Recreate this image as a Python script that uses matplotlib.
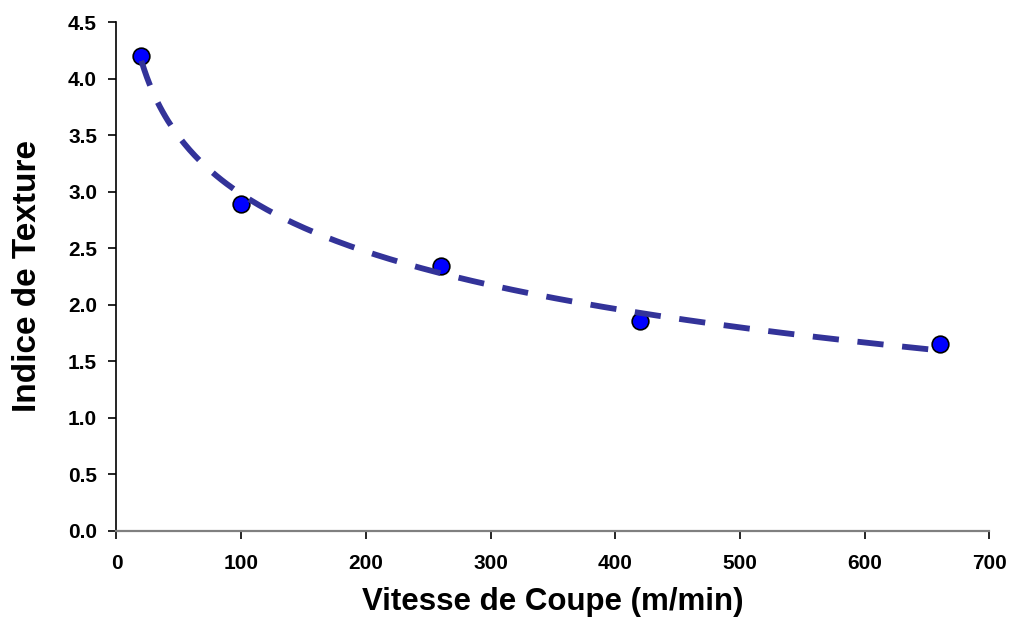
import numpy as np
import matplotlib
matplotlib.use("Agg")
import matplotlib.pyplot as plt

vitesse = [20, 100, 260, 420, 660]
indice = [4.20, 2.89, 2.34, 1.86, 1.65]
x_ticks = [0, 100, 200, 300, 400, 500, 600, 700]
y_ticks = [0.0, 0.5, 1.0, 1.5, 2.0, 2.5, 3.0, 3.5, 4.0, 4.5]

plt.rcParams['font.family'] = ['Liberation Sans', 'DejaVu Sans']

fig = plt.figure(figsize=(10.10, 6.19), dpi=100)
ax = fig.add_axes([0.1153, 0.1427, 0.8644, 0.8213])

# logarithmic trend line fitted to the data
b, a = np.polyfit(np.log(vitesse), indice, 1)
xf = np.linspace(min(vitesse), max(vitesse), 300)
yf = a + b * np.log(xf)

ax.plot(vitesse, indice, 'o', color='#0000FF', markeredgecolor='black',
        markeredgewidth=1.2, markersize=12, zorder=3)
ax.plot(xf, yf, color='#333399', lw=4.2, dashes=(4.5, 3.2),
        dash_capstyle='butt', zorder=4)

ax.set_xlim(0, 700)
ax.set_ylim(0, 4.5)
ax.set_xticks(x_ticks)
ax.set_yticks(y_ticks)
ax.set_xticklabels([str(v) for v in x_ticks])
ax.set_yticklabels([f"{v:.1f}" for v in y_ticks])
for lab in ax.get_xticklabels() + ax.get_yticklabels():
    lab.set_fontweight('bold')
ax.tick_params(axis='both', labelsize=15, direction='out', length=6, width=1.2,
               colors='black')
ax.tick_params(axis='x', pad=11)
ax.tick_params(axis='y', pad=8)

ax.spines['top'].set_visible(False)
ax.spines['right'].set_visible(False)
ax.spines['left'].set_color('black')
ax.spines['bottom'].set_color('#808080')
ax.spines['left'].set_linewidth(1.2)
ax.spines['bottom'].set_linewidth(1.6)

ax.set_xlabel('Vitesse de Coupe (m/min)', fontsize=22.5, fontweight='bold', labelpad=10)
ax.set_ylabel('Indice de Texture', fontsize=24, fontweight='bold', labelpad=18)

fig.savefig('out.png', dpi=100)
